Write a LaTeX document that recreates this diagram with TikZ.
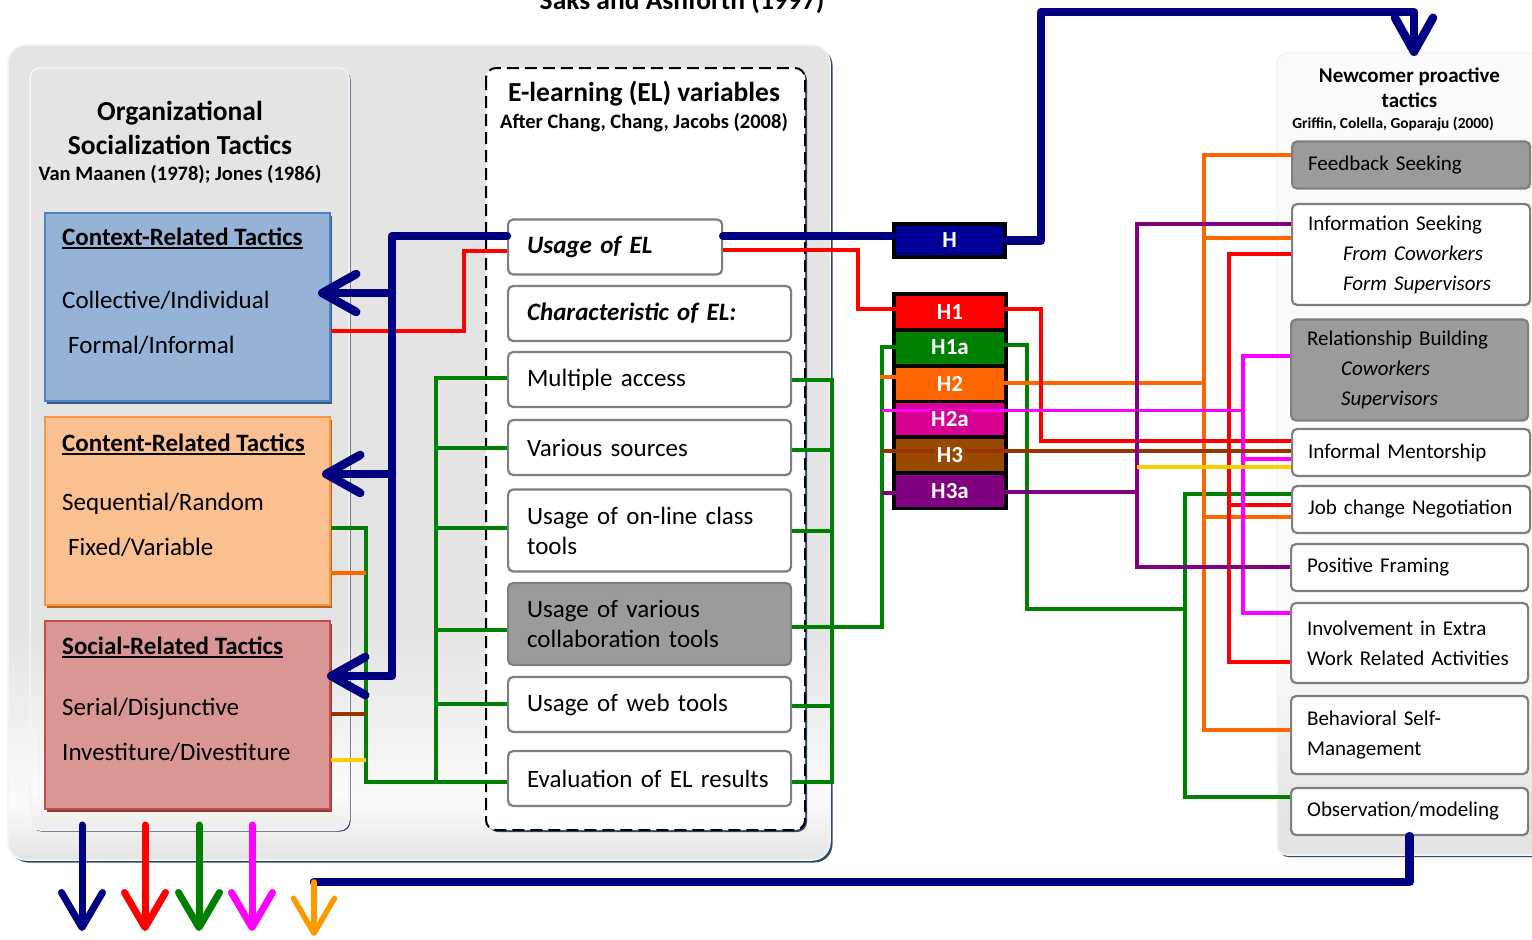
\documentclass[tikz,border=0pt]{standalone}
\usepackage{fontspec}
\setmainfont{Carlito}
\usetikzlibrary{arrows.meta}
\definecolor{navyc}{HTML}{000080}
\definecolor{redc}{HTML}{FF0000}
\definecolor{greenc}{HTML}{008000}
\definecolor{orangec}{HTML}{FF6600}
\definecolor{arroworange}{HTML}{FF9900}
\definecolor{magc}{HTML}{FF00FF}
\definecolor{brownc}{HTML}{993300}
\definecolor{purplec}{HTML}{800080}
\definecolor{yellowc}{HTML}{FFCC00}
\definecolor{hbluec}{HTML}{000099}
\definecolor{htwoa}{HTML}{D60093}
\definecolor{hthree}{HTML}{994A00}
\definecolor{boxgray}{HTML}{9B9B9B}
\definecolor{boxline}{HTML}{7F7F7F}
\definecolor{ctxfill}{HTML}{95B3D7}
\definecolor{ctxline}{HTML}{4F81BD}
\definecolor{ctxshadow}{HTML}{3A5A80}
\definecolor{cntfill}{HTML}{FAC090}
\definecolor{cntline}{HTML}{F79646}
\definecolor{cntshadow}{HTML}{B6651F}
\definecolor{socfill}{HTML}{D99694}
\definecolor{socline}{HTML}{C0504D}
\definecolor{socshadow}{HTML}{8E3B39}
\definecolor{pgray}{HTML}{E4E4E4}
\definecolor{pgrayl}{HTML}{EDEDED}
\definecolor{pwhite}{HTML}{FBFBFB}
\definecolor{pedge}{HTML}{F4F4F4}
\definecolor{pshadow}{HTML}{2E4A6B}
\pgfdeclareverticalshading{outershade}{100bp}{color(0bp)=(pgray); color(25bp)=(pgray); color(28.5bp)=(pwhite); color(39bp)=(pgray); color(100bp)=(pgray)}
\pgfdeclareverticalshading{innershade}{100bp}{color(0bp)=(pgrayl); color(25bp)=(pgrayl); color(27.5bp)=(pwhite); color(37.5bp)=(pgray); color(100bp)=(pgray)}
\pgfdeclareverticalshading{rightshade}{100bp}{color(0bp)=(pgray); color(27bp)=(pgray); color(38bp)=(pwhite); color(100bp)=(pwhite)}
\newcommand\myunderline[1]{{\setbox0=\hbox{#1}\rlap{\rule[-3.5pt]{\wd0}{1.8pt}}\box0}}
\begin{document}
\begin{tikzpicture}[x=1pt,y=-1pt,
  thinl/.style={line width=3.2pt},
  navyl/.style={draw=navyc, line width=8.5pt, line cap=round, line join=round},
  navyarr/.style={navyl, -{Straight Barb[length=34pt,width=38pt,round]}},
  botarr/.style={line width=7pt, line cap=round, line join=round, -{Straight Barb[length=35pt,width=41pt,round]}},
  elbox/.style={draw=boxline, line width=2.2pt, rounded corners=5pt, fill=white, anchor=west, inner xsep=19pt, inner ysep=0pt, text width=245pt, align=left, font=\fontsize{25}{30}\selectfont},
  rbox/.style={draw=boxline, line width=2.2pt, rounded corners=5pt, fill=white, anchor=west, inner xsep=16pt, inner ysep=0pt, text width=206pt, align=left, font=\fontsize{21}{30}\selectfont},
  graybox/.style={fill=boxgray},
  tbox/.style={line width=2pt, anchor=north west, inner sep=0pt, minimum width=285pt, minimum height=188pt},
  ttext/.style={anchor=base west, inner sep=0pt, font=\fontsize{25}{30}\selectfont},
  hcell/.style={minimum width=108pt, minimum height=32pt, inner sep=0pt, text=white, font=\bfseries\fontsize{23}{26}\selectfont},
  hlab/.style={inner sep=2pt, text=white, font=\bfseries\fontsize{23}{26}\selectfont},
  titletext/.style={anchor=base, inner sep=0pt, font=\bfseries\fontsize{27.5}{32}\selectfont},
  subtext/.style={anchor=base, inner sep=0pt, font=\bfseries\fontsize{20.5}{24}\selectfont}
]
\useasboundingbox (0,0) rectangle (1532,940);

% ---------- panels ----------
\fill[pshadow, rounded corners=18pt] (10.5,47.5) rectangle (832.5,862.5);
\shade[shading=outershade, rounded corners=18pt, draw=pedge, line width=1.5pt] (8,45) rectangle (830,860);

\fill[pshadow, rounded corners=10pt] (31.5,69.5) rectangle (350.5,831.5);
\shade[shading=innershade, rounded corners=10pt, draw=pedge, line width=1.5pt] (30,68) rectangle (349,830);

\fill[pshadow, rounded corners=10pt] (488,70) rectangle (807,832);
\draw[fill=white, rounded corners=10pt, dash pattern=on 12pt off 6pt, line width=2pt] (486,68) rectangle (805,830);

\fill[pshadow, rounded corners=10pt] (1278.5,54.5) rectangle (1560,857);
\shade[shading=rightshade, rounded corners=10pt, draw=pedge, line width=1.5pt] (1277,53) rectangle (1560,855);

% ---------- titles ----------
\node[titletext] (saks) at (682,9) {Saks and Ashforth (1997)};
\node[titletext] (ost1) at (180,120) {Organizational};
\node[titletext] (ost2) at (180,154) {Socialization Tactics};
\node[subtext] (ost3) at (180,180) {Van Maanen (1978); Jones (1986)};
\node[titletext] (elt1) at (644,101) {E-learning (EL) variables};
\node[subtext] (elt2) at (644,128) {After Chang, Chang, Jacobs (2008)};
\node[anchor=base, inner sep=0pt, font=\bfseries\fontsize{21}{25}\selectfont] (npt1) at (1409.5,82) {Newcomer proactive};
\node[anchor=base, inner sep=0pt, font=\bfseries\fontsize{21}{25}\selectfont] (npt2) at (1409.5,107) {tactics};
\node[anchor=base, inner sep=0pt, font=\bfseries\fontsize{15.4}{18}\selectfont] (npt3) at (1393,128) {Griffin, Colella, Goparaju (2000)};

% ---------- tactic boxes ----------
\fill[ctxshadow] (47,216) rectangle (332,404);
\node[tbox, fill=ctxfill, draw=ctxline] (ctx) at (44,212) {};
\node[ttext] (ctxa) at (62,245) {\bfseries\myunderline{Context-Related Tactics}};
\node[ttext] (ctxb) at (62,308) {Collective/Individual};
\node[ttext] (ctxc) at (68,353) {Formal/Informal};

\fill[cntshadow] (47,420) rectangle (332,608);
\node[tbox, fill=cntfill, draw=cntline] (cnt) at (44,416) {};
\node[ttext] (cnta) at (62,451) {\bfseries\myunderline{Content-Related Tactics}};
\node[ttext] (cntb) at (62,510) {Sequential/Random};
\node[ttext] (cntc) at (68,555) {Fixed/Variable};

\fill[socshadow] (47,624) rectangle (332,812);
\node[tbox, fill=socfill, draw=socline] (soc) at (44,620) {};
\node[ttext] (soca) at (62,654) {\bfseries\myunderline{Social-Related Tactics}};
\node[ttext] (socb) at (62,715) {Serial/Disjunctive};
\node[ttext] (socc) at (62,760) {Investiture/Divestiture};

% ---------- EL boxes ----------
\node[elbox, text width=176pt, minimum height=55pt] (ue) at (507,247) {\textbf{\textit{Usage of EL}}};
\node[elbox, minimum height=55pt] (ce) at (507,313.5) {\textbf{\textit{Characteristic of EL:}}};
\node[elbox, minimum height=55pt] (ma) at (507,379.5) {Multiple access};
\node[elbox, minimum height=55pt] (vs) at (507,447.5) {Various sources};
\node[elbox, minimum height=82pt] (ol) at (507,530.5) {\mbox{Usage of on-line class}\\tools};
\node[elbox, graybox, minimum height=82pt] (ct) at (507,624) {Usage of various\\collaboration tools};
\node[elbox, minimum height=55pt] (wt) at (507,704.5) {Usage of web tools};
\node[elbox, minimum height=55pt] (ev) at (507,778.5) {\mbox{Evaluation of EL results}};

% ---------- newcomer boxes ----------
\node[rbox, graybox, minimum height=47pt] (fs) at (1291,165) {Feedback Seeking};
\node[rbox, minimum height=101pt] (is) at (1291,254.5) {Information Seeking\\\hspace*{35pt}\textit{From Coworkers}\\\hspace*{35pt}\textit{Form Supervisors}};
\node[rbox, graybox, text width=205pt, minimum height=101pt] (rb) at (1290,370) {\mbox{Relationship Building}\\\hspace*{34pt}\textit{Coworkers}\\\hspace*{34pt}\textit{Supervisors}};
\node[rbox, minimum height=47pt] (im) at (1291,452.5) {Informal Mentorship};
\node[rbox, minimum height=47pt] (jn) at (1291,509.5) {\mbox{Job change Negotiation}};
\node[rbox, text width=205pt, minimum height=47pt] (pf) at (1290,567.5) {Positive Framing};
\node[rbox, text width=205pt, minimum height=80pt] (ie) at (1290,643) {Involvement in Extra\\\mbox{Work Related Activities}};
\node[rbox, text width=205pt, minimum height=78pt] (bs) at (1290,735) {Behavioral Self-\\Management};
\node[rbox, text width=205pt, minimum height=47pt] (ob) at (1290,811.5) {\mbox{Observation/modeling}};

% ---------- hypothesis boxes ----------
\node[draw=black, line width=4pt, fill=hbluec, minimum width=111pt, minimum height=33pt, inner sep=0pt, text=white, font=\bfseries\fontsize{23}{26}\selectfont] (H) at (949.5,240.5) {H};
\node[fill=black, minimum width=116pt, minimum height=218pt, inner sep=0pt] (hstack) at (950,401) {};
\node[hcell, fill=redc] (h1) at (950,311.7) {H1};
\node[hcell, fill=greenc] (h1a) at (950,347.6) {H1a};
\node[hcell, fill=orangec] (h2) at (950,383.5) {H2};
\node[hcell, fill=htwoa] (h2a) at (950,419.4) {};
\node[hcell, fill=hthree] (h3) at (950,455.3) {};
\node[hcell, fill=purplec] (h3a) at (950,491.2) {H3a};

% ---------- named free ends ----------
\coordinate (ctxTip) at (318,293);
\coordinate (cntTip) at (322,474);
\coordinate (socTip) at (327,676);
\coordinate (npTip) at (1414,56);
\coordinate (oaStart) at (314,882);
\coordinate (oaTip) at (314,936);
\coordinate (b1s) at (82,825);   \coordinate (b1e) at (82,931);
\coordinate (b2s) at (145,825);  \coordinate (b2e) at (145,931);
\coordinate (b3s) at (199,825);  \coordinate (b3e) at (199,931);
\coordinate (b4s) at (252,825);  \coordinate (b4e) at (252,931);

% ---------- green connectors ----------
\draw[thinl, greenc] (ma.west |- 0,378) -- (436,378) -- (436,782) -- (ev.west |- 0,782);
\draw[thinl, greenc] (436,448) -- (vs.west |- 0,448);
\draw[thinl, greenc] (436,528) -- (ol.west |- 0,528);
\draw[thinl, greenc] (436,630) -- (ct.west |- 0,630);
\draw[thinl, greenc] (436,704) -- (wt.west |- 0,704);
\draw[thinl, greenc] (cnt.east |- 0,528) -- (366,528) -- (366,782) -- (436,782);
\draw[thinl, greenc] (ma.east |- 0,380) -- (832,380) -- (832,782) -- (ev.east |- 0,782);
\draw[thinl, greenc] (vs.east |- 0,450) -- (832,450);
\draw[thinl, greenc] (ol.east |- 0,531) -- (832,531);
\draw[thinl, greenc] (wt.east |- 0,706) -- (832,706);
\draw[thinl, greenc] (ct.east |- 0,627) -- (882,627) -- (882,347) -- (h1a.west |- 0,347);
\draw[thinl, greenc] (h1a.east |- 0,345) -- (1027,345) -- (1027,609) -- (1185,609);
\draw[thinl, greenc] (jn.west |- 0,494) -- (1185,494) -- (1185,797) -- (ob.west |- 0,797);

% ---------- orange connectors ----------
\draw[thinl, orangec] (cnt.east |- 0,573) -- (366,573);
\draw[thinl, orangec] (880,377) -- (h2.west |- 0,377);
\draw[thinl, orangec] (h2.east |- 0,383) -- (1206,383);
\draw[thinl, orangec] (fs.west |- 0,155) -- (1204,155) -- (1204,730) -- (bs.west |- 0,730);
\draw[thinl, orangec] (1204,238) -- (is.west |- 0,238);
\draw[thinl, orangec] (1204,517) -- (jn.west |- 0,517);

% ---------- red connectors ----------
\draw[thinl, redc] (ue.west |- 0,251) -- (464,251) -- (464,331) -- (ctx.east |- 0,331);
\draw[thinl, redc] (ue.east |- 0,250) -- (858,250) -- (858,309) -- (h1.west |- 0,309);
\draw[thinl, redc] (h1.east |- 0,309) -- (1041,309) -- (1041,441) -- (im.west |- 0,441);
\draw[thinl, redc] (is.west |- 0,254) -- (1229,254) -- (1229,662) -- (ie.west |- 0,662);
\draw[thinl, redc] (1229,505) -- (jn.west |- 0,505);

% ---------- magenta connectors ----------
\draw[thinl, magc] (882,410.5) -- (1243,410.5);
\draw[thinl, magc] (rb.west |- 0,356) -- (1243,356) -- (1243,613) -- (ie.west |- 0,613);
\draw[thinl, magc] (1243,459) -- (im.west |- 0,459);

% ---------- brown connectors ----------
\draw[thinl, brownc] (882,451) -- (im.west |- 0,451);
\draw[thinl, brownc] (soc.east |- 0,714) -- (366,714);

% ---------- purple connectors ----------
\draw[thinl, purplec] (882,493) -- (h3a.west |- 0,493);
\draw[thinl, purplec] (h3a.east |- 0,492) -- (1137,492);
\draw[thinl, purplec] (is.west |- 0,224) -- (1137,224) -- (1137,567) -- (pf.west |- 0,567);

% ---------- yellow connectors ----------
\draw[thinl, yellowc] (1137,467) -- (im.west |- 0,467);
\draw[thinl, yellowc] (soc.east |- 0,760) -- (366,760);

% ---------- labels over crossing lines ----------
\node[hlab, fill=htwoa] (h2al) at (h2a) {H2a};
\node[hlab, fill=hthree] (h3l) at (h3) {H3};

% ---------- navy connectors ----------
\draw[navyarr] (ue.west |- 0,236) -- (392,236) -- (392,676) -- (socTip);
\draw[navyarr] (392,293) -- (ctxTip);
\draw[navyarr] (392,474) -- (cntTip);
\draw[navyl] (ue.east |- 0,236) -- (H.west |- 0,236);
\draw[navyarr] (H.east) -- (1041,240.5) -- (1041,12) -- (1414,12) -- (npTip);
\draw[navyl] (ob.south) -- (ob.south |- oaStart) -- (oaStart);
\draw[botarr, arroworange, line width=5.5pt] (oaStart) -- (oaTip);

% ---------- bottom arrows ----------
\draw[botarr, navyc] (b1s) -- (b1e);
\draw[botarr, redc] (b2s) -- (b2e);
\draw[botarr, greenc] (b3s) -- (b3e);
\draw[botarr, magc] (b4s) -- (b4e);
\end{tikzpicture}
\end{document}
